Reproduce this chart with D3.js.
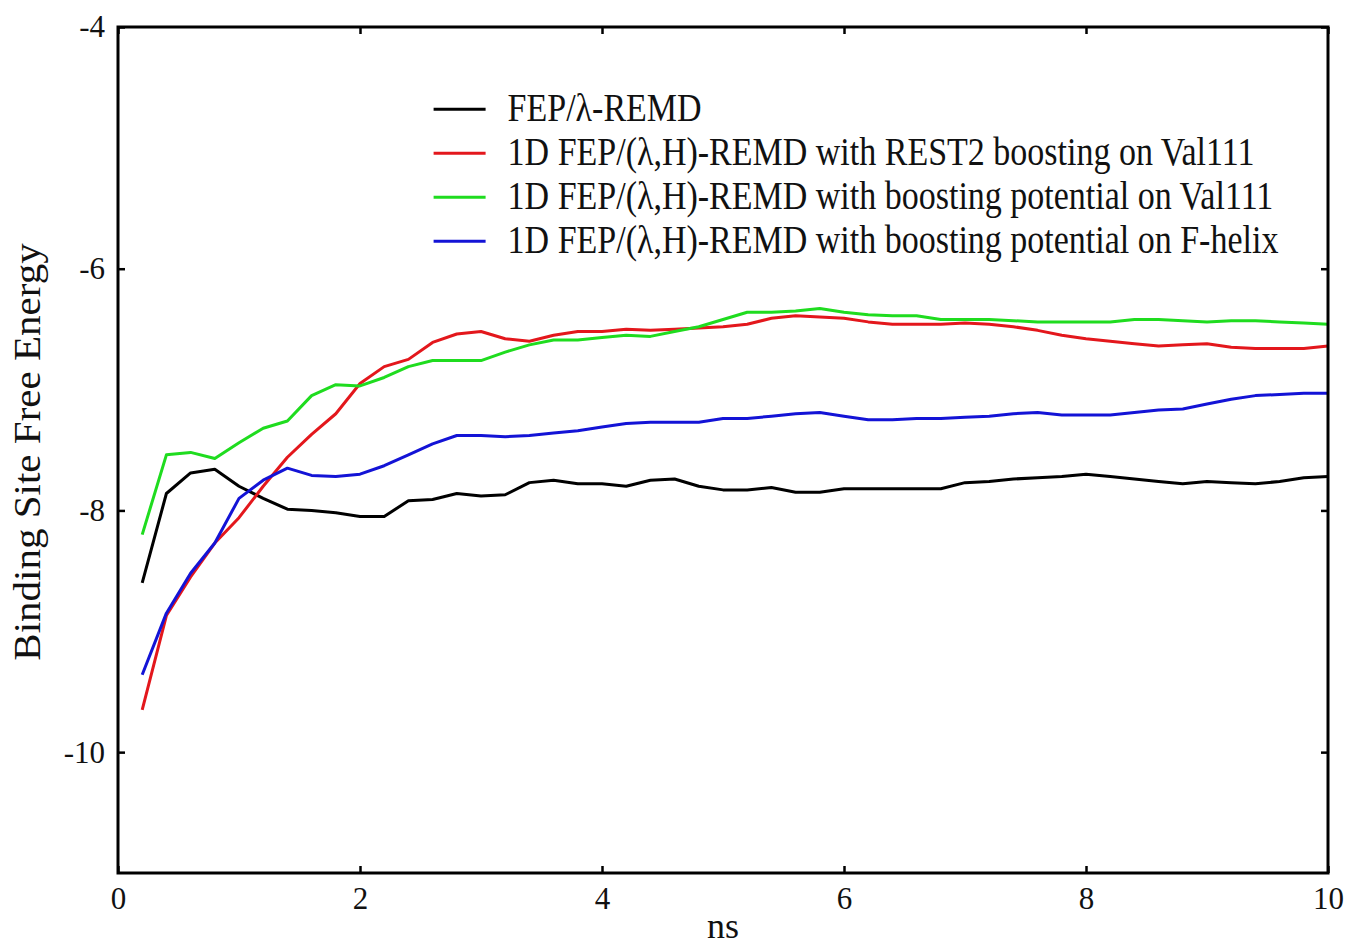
<!DOCTYPE html>
<html>
<head>
<meta charset="utf-8">
<script src="https://cdn.jsdelivr.net/npm/d3@7"></script>
<style>
  body { margin: 0; background: #fff; }
  text { font-family: "Liberation Serif", "Times New Roman", serif; fill: #111; }
</style>
</head>
<body>
<div id="chart"></div>
<script>
// time axis (ns), sampled every 0.2 ns
var times = [0.2,0.4,0.6,0.8,1.0,1.2,1.4,1.6,1.8,2.0,2.2,2.4,2.6,2.8,3.0,3.2,3.4,3.6,3.8,4.0,
  4.2,4.4,4.6,4.8,5.0,5.2,5.4,5.6,5.8,6.0,6.2,6.4,6.6,6.8,7.0,7.2,7.4,7.6,7.8,8.0,
  8.2,8.4,8.6,8.8,9.0,9.2,9.4,9.6,9.8,10.0];

var fepLambda = [-8.60,-7.86,-7.69,-7.66,-7.80,-7.90,-7.99,-8.00,-8.02,-8.05,-8.05,-7.92,-7.91,-7.86,-7.88,-7.87,-7.77,-7.75,-7.78,-7.78,
  -7.80,-7.75,-7.74,-7.80,-7.83,-7.83,-7.81,-7.85,-7.85,-7.82,-7.82,-7.82,-7.82,-7.82,-7.77,-7.76,-7.74,-7.73,-7.72,-7.70,
  -7.72,-7.74,-7.76,-7.78,-7.76,-7.77,-7.78,-7.76,-7.73,-7.72];

var rest2Val111 = [-9.65,-8.87,-8.55,-8.27,-8.06,-7.80,-7.56,-7.37,-7.20,-6.95,-6.81,-6.75,-6.61,-6.54,-6.52,-6.58,-6.60,-6.55,-6.52,-6.52,
  -6.50,-6.51,-6.50,-6.49,-6.48,-6.46,-6.41,-6.39,-6.40,-6.41,-6.44,-6.46,-6.46,-6.46,-6.45,-6.46,-6.48,-6.51,-6.55,-6.58,
  -6.60,-6.62,-6.64,-6.63,-6.62,-6.65,-6.66,-6.66,-6.66,-6.64];

var boostVal111 = [-8.20,-7.54,-7.52,-7.57,-7.44,-7.32,-7.26,-7.05,-6.96,-6.97,-6.90,-6.81,-6.76,-6.76,-6.76,-6.69,-6.63,-6.59,-6.59,-6.57,
  -6.55,-6.56,-6.52,-6.48,-6.42,-6.36,-6.36,-6.35,-6.33,-6.36,-6.38,-6.39,-6.39,-6.42,-6.42,-6.42,-6.43,-6.44,-6.44,-6.44,
  -6.44,-6.42,-6.42,-6.43,-6.44,-6.43,-6.43,-6.44,-6.45,-6.46];

var boostFhelix = [-9.36,-8.85,-8.52,-8.27,-7.90,-7.75,-7.65,-7.71,-7.72,-7.70,-7.63,-7.54,-7.45,-7.38,-7.38,-7.39,-7.38,-7.36,-7.34,-7.31,
  -7.28,-7.27,-7.27,-7.27,-7.24,-7.24,-7.22,-7.20,-7.19,-7.22,-7.25,-7.25,-7.24,-7.24,-7.23,-7.22,-7.20,-7.19,-7.21,-7.21,
  -7.21,-7.19,-7.17,-7.16,-7.12,-7.08,-7.05,-7.04,-7.03,-7.03];

var seriesNames = [
  "FEP/\u03bb-REMD",
  "1D FEP/(\u03bb,H)-REMD with REST2 boosting on Val111",
  "1D FEP/(\u03bb,H)-REMD with boosting potential on Val111",
  "1D FEP/(\u03bb,H)-REMD with boosting potential on F-helix"
];
var seriesColors = ["#000000", "#e3171c", "#1fdc1f", "#1313d6"];
var xTicks = [0, 2, 4, 6, 8, 10];
var yTicks = [-10, -8, -6, -4];

var W = 1348, H = 946;
var margin = { top: 27, right: 20, bottom: 73, left: 118 };
var width = W - margin.left - margin.right;
var height = H - margin.top - margin.bottom;

var root = d3.select("#chart").append("svg")
  .attr("width", W)
  .attr("height", H);

var svg = root.append("g")
  .attr("transform", "translate(" + margin.left + "," + margin.top + ")");

var x = d3.scaleLinear().domain([0, 10]).range([0, width]);
var y = d3.scaleLinear().domain([-11, -4]).range([height, 0]);

var allSeries = [fepLambda, rest2Val111, boostVal111, boostFhelix];

// lines
var line = d3.line()
  .x(function (d, i) { return x(times[i]); })
  .y(function (d) { return y(d); });

svg.append("g").attr("class", "lines")
  .selectAll("path")
  .data(allSeries)
  .enter().append("path")
  .attr("d", line)
  .attr("fill", "none")
  .attr("stroke", function (d, i) { return seriesColors[i]; })
  .attr("stroke-width", 3)
  .attr("stroke-linejoin", "round");

// frame with inward ticks on all four sides
var tickLen = 7;
var fontSize = 31;
var plainNum = function (d) { return String(d); };   // plain hyphen, like the original

function styleAxis(g) {
  g.select(".domain").remove();
  g.selectAll(".tick line").attr("stroke", "#000").attr("stroke-width", 2.5);
}
function styleLabels(g) {
  g.selectAll(".tick text")
    .attr("font-size", fontSize)
    .attr("font-family", "Liberation Serif")
    .attr("fill", "#111");
}

svg.append("g")
  .attr("transform", "translate(0," + height + ")")
  .call(d3.axisBottom(x).tickValues(xTicks).tickSizeInner(-tickLen).tickPadding(14).tickFormat(plainNum))
  .call(styleAxis)
  .call(styleLabels);

svg.append("g")
  .call(d3.axisTop(x).tickValues(xTicks).tickSizeInner(-tickLen).tickFormat(""))
  .call(styleAxis);

svg.append("g")
  .call(d3.axisLeft(y).tickValues(yTicks).tickSizeInner(-tickLen).tickPadding(13).tickFormat(plainNum))
  .call(styleAxis)
  .call(styleLabels);

svg.append("g")
  .attr("transform", "translate(" + width + ",0)")
  .call(d3.axisRight(y).tickValues(yTicks).tickSizeInner(-tickLen).tickFormat(""))
  .call(styleAxis);

svg.append("rect")
  .attr("width", width)
  .attr("height", height)
  .attr("fill", "none")
  .attr("stroke", "#000")
  .attr("stroke-width", 3);

// axis titles
svg.append("text")
  .attr("x", width / 2)
  .attr("y", height + 65)
  .attr("text-anchor", "middle")
  .attr("font-size", 36)
  .text("ns");

svg.append("text")
  .attr("transform", "translate(-78," + (height / 2 + 2) + ") rotate(-90) scale(1.08,1)")
  .attr("text-anchor", "middle")
  .attr("font-size", 38)
  .text("Binding Site Free Energy");

// legend
var legend = svg.append("g")
  .attr("transform", "translate(" + (x(2.6) + 1) + "," + (y(-4.68)) + ")");

var rows = legend.selectAll("g")
  .data(seriesNames)
  .enter().append("g")
  .attr("transform", function (d, i) { return "translate(0," + (i * 44) + ")"; });

rows.append("line")
  .attr("x1", 0).attr("x2", 52)
  .attr("y1", 0).attr("y2", 0)
  .attr("stroke", function (d, i) { return seriesColors[i]; })
  .attr("stroke-width", 3);

rows.append("text")
  .attr("transform", "translate(74,12) scale(1,1.15)")
  .attr("font-size", 34)
  .text(function (d) { return d; });
</script>
</body>
</html>
